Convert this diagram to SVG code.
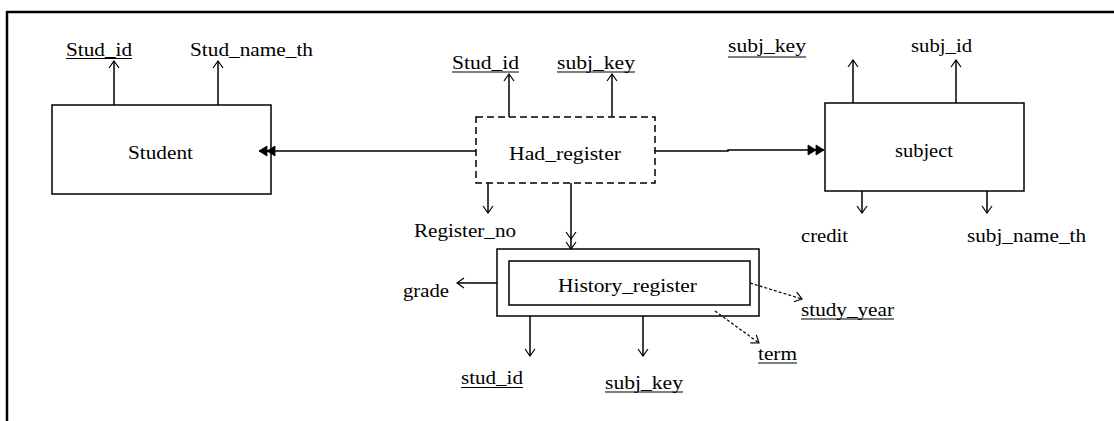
<svg xmlns="http://www.w3.org/2000/svg" width="1114" height="421" viewBox="0 0 1114 421">
<style>
text{font-family:"Liberation Serif","DejaVu Serif",serif;font-size:18px;fill:#000}
.box{fill:none;stroke:#000;stroke-width:1.5}
.ln{stroke:#000;stroke-width:1.5;fill:none}
.dl{stroke:#000;stroke-width:1.2;fill:none;stroke-dasharray:3,2}
.ul{stroke:#000;stroke-width:1.2}
</style>
<defs>
<marker id="open" viewBox="-8 -6 9 12" refX="0" refY="0" markerWidth="9" markerHeight="12" markerUnits="userSpaceOnUse" orient="auto">
<path d="M-7,-5 L0,0 L-7,5" fill="none" stroke="#000" stroke-width="1.2"/>
</marker>
<marker id="dbl" viewBox="-17 -6 18 12" refX="0" refY="0" markerWidth="18" markerHeight="12" markerUnits="userSpaceOnUse" orient="auto">
<path d="M-16,-5 L-8,0 L-16,5 Z M-8,-5 L0,0 L-8,5 Z" fill="#000" stroke="#000" stroke-width="0.8" stroke-linejoin="round"/>
</marker>
<marker id="dchev" viewBox="-19 -6 20 12" refX="0" refY="0" markerWidth="20" markerHeight="12" markerUnits="userSpaceOnUse" orient="auto">
<path d="M-7,-5 L0,0 L-7,5 M-17,-5 L-10,0 L-17,5" fill="none" stroke="#000" stroke-width="1.2"/>
</marker>
</defs>
<rect width="1114" height="421" fill="#fff"/>
<g id="frame">
<line x1="6" y1="12" x2="1114" y2="12" stroke="#000" stroke-width="2.5"/>
<line x1="7" y1="11" x2="7" y2="421" stroke="#000" stroke-width="2.5"/>
</g>
<g id="student">
<rect class="box" x="52" y="105" width="219" height="89"/>
<text x="128" y="159" textLength="65" lengthAdjust="spacingAndGlyphs">Student</text>
</g>
<g id="student_attrs">
<text x="66" y="56" textLength="66" lengthAdjust="spacingAndGlyphs">Stud_id</text>
<line class="ul" x1="66" y1="58.5" x2="132" y2="58.5"/>
<text x="190" y="56" textLength="123" lengthAdjust="spacingAndGlyphs">Stud_name_th</text>
</g>
<g id="had_register">
<rect x="476" y="117" width="179" height="66" fill="none" stroke="#000" stroke-width="1.5" stroke-dasharray="7,4"/>
<text x="509" y="160" textLength="112" lengthAdjust="spacingAndGlyphs">Had_register</text>
</g>
<g id="had_attrs">
<text x="452" y="69" textLength="67" lengthAdjust="spacingAndGlyphs">Stud_id</text>
<line class="ul" x1="452" y1="72" x2="519" y2="72"/>
<text x="557" y="69" textLength="78" lengthAdjust="spacingAndGlyphs">subj_key</text>
<line class="ul" x1="557" y1="72" x2="635" y2="72"/>
<text x="414" y="237" textLength="102" lengthAdjust="spacingAndGlyphs">Register_no</text>
</g>
<g id="subject">
<rect class="box" x="825" y="103" width="199" height="88"/>
<text x="895" y="157" textLength="58" lengthAdjust="spacingAndGlyphs">subject</text>
</g>
<g id="subject_attrs">
<text x="728" y="52" textLength="78" lengthAdjust="spacingAndGlyphs">subj_key</text>
<line class="ul" x1="728" y1="57" x2="806" y2="57"/>
<text x="911" y="52" textLength="61" lengthAdjust="spacingAndGlyphs">subj_id</text>
<text x="801" y="242" textLength="47" lengthAdjust="spacingAndGlyphs">credit</text>
<text x="967" y="242" textLength="119" lengthAdjust="spacingAndGlyphs">subj_name_th</text>
</g>
<g id="history_register">
<rect class="box" x="497" y="249" width="262" height="67"/>
<rect class="box" x="509" y="261" width="241" height="44"/>
<text x="558" y="292" textLength="139" lengthAdjust="spacingAndGlyphs">History_register</text>
</g>
<g id="history_attrs">
<text x="403" y="297" textLength="46" lengthAdjust="spacingAndGlyphs">grade</text>
<text x="461" y="384" textLength="62" lengthAdjust="spacingAndGlyphs">stud_id</text>
<line class="ul" x1="461" y1="387.5" x2="523" y2="387.5"/>
<text x="605" y="389" textLength="78" lengthAdjust="spacingAndGlyphs">subj_key</text>
<line class="ul" x1="605" y1="392" x2="683" y2="392"/>
<text x="801" y="316" textLength="93" lengthAdjust="spacingAndGlyphs">study_year</text>
<line class="ul" x1="801" y1="319" x2="894" y2="319"/>
<text x="758" y="360" textLength="39" lengthAdjust="spacingAndGlyphs">term</text>
<line class="ul" x1="758" y1="363" x2="797" y2="363"/>
</g>
<g id="connectors">
<line class="ln" x1="114" y1="105" x2="114" y2="61" marker-end="url(#open)"/>
<line class="ln" x1="218" y1="105" x2="218" y2="61" marker-end="url(#open)"/>
<line class="ln" x1="476" y1="151" x2="259" y2="151" marker-end="url(#dbl)"/>
<line class="ln" x1="509" y1="117" x2="509" y2="74" marker-end="url(#open)"/>
<line class="ln" x1="612" y1="117" x2="612" y2="74" marker-end="url(#open)"/>
<path class="ln" d="M655,151 L728,151 L728,150 L824,150" marker-end="url(#dbl)"/>
<line class="ln" x1="488" y1="183" x2="488" y2="213" marker-end="url(#open)"/>
<line class="ln" x1="571" y1="183" x2="571" y2="249" marker-end="url(#dchev)"/>
<line class="ln" x1="853" y1="103" x2="853" y2="60" marker-end="url(#open)"/>
<line class="ln" x1="956" y1="103" x2="956" y2="60" marker-end="url(#open)"/>
<line class="ln" x1="862" y1="191" x2="862" y2="213" marker-end="url(#open)"/>
<line class="ln" x1="987" y1="191" x2="987" y2="213" marker-end="url(#open)"/>
<line class="ln" x1="497" y1="283" x2="457" y2="283" marker-end="url(#open)"/>
<line class="ln" x1="530" y1="316" x2="530" y2="356" marker-end="url(#open)"/>
<line class="ln" x1="643" y1="316" x2="643" y2="356" marker-end="url(#open)"/>
<line class="dl" x1="750" y1="283" x2="802" y2="299" marker-end="url(#open)"/>
<line class="dl" x1="715" y1="311" x2="759" y2="343" marker-end="url(#open)"/>
</g>
</svg>
